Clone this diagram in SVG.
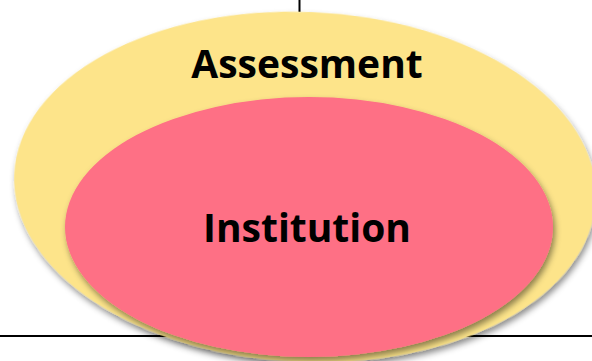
<svg xmlns="http://www.w3.org/2000/svg" width="592" height="361" viewBox="0 0 592 361">
<defs>
<filter id="sh" x="-10%" y="-10%" width="120%" height="130%">
<feDropShadow dx="2" dy="4" stdDeviation="3" flood-color="#000" flood-opacity="0.45"/>
</filter>
</defs>
<style>
.lbl{font-family:"Open Sans","Noto Sans",sans-serif;font-weight:bold;font-size:39px;fill:#000;text-anchor:middle}
.ln{stroke:#000;stroke-width:2;fill:none}
</style>
<g id="connectors">
<line class="ln" x1="299.5" y1="0" x2="299.5" y2="12"/>
<line class="ln" x1="0" y1="336" x2="592" y2="336"/>
</g>
<g id="assessment">
<ellipse cx="305" cy="187" rx="291" ry="175" transform="rotate(2.5 305 187)" fill="#FDE48A" filter="url(#sh)"/>
<text class="lbl" x="307" y="78">Assessment</text>
</g>
<g id="institution">
<ellipse cx="309" cy="227" rx="244" ry="130" fill="#FE6F85" filter="url(#sh)"/>
<text class="lbl" x="307" y="242">Institution</text>
</g>
</svg>
